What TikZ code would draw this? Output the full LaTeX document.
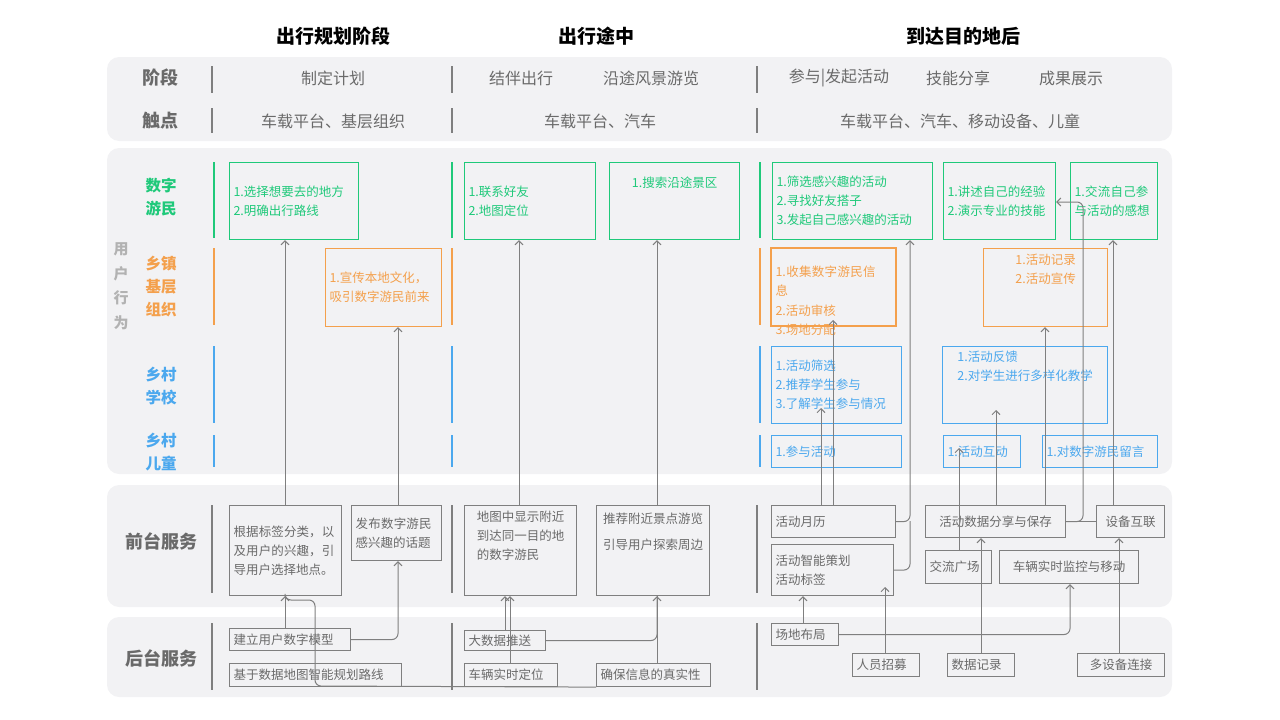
\documentclass[tikz,border=0pt]{standalone}
\usepackage{fontspec}
\setmainfont{Noto Sans CJK SC}
\XeTeXlinebreaklocale "zh"
\XeTeXlinebreakskip=0pt plus 1pt
\usetikzlibrary{arrows.meta}
\definecolor{panel}{HTML}{F2F2F4}
\definecolor{lgreen}{HTML}{1FC97A}
\definecolor{lorange}{HTML}{F4A04C}
\definecolor{lblue}{HTML}{4BA8EE}
\definecolor{lgray}{HTML}{7F7F7F}
\definecolor{tgray}{HTML}{6A6A6A}
\tikzset{
  bg/.style={fill=panel, draw=none, rounded corners=12pt},
  head/.style={font=\fontsize{19}{21}\selectfont\bfseries, text=black},
  lab/.style={font=\fontsize{18}{20}\selectfont\bfseries, text=tgray},
  role/.style={font=\fontsize{15.5}{23}\selectfont\bfseries, align=center},
  stage/.style={font=\fontsize{16}{18}\selectfont, text=tgray},
  box/.style={draw, line width=1.1pt, inner xsep=4pt, align=left,
    font=\fontsize{12.5}{19}\selectfont},
  gbox/.style={box, draw=lgreen, text=lgreen},
  obox/.style={box, draw=lorange, text=lorange},
  bbox/.style={box, draw=lblue, text=lblue},
  sbox/.style={box, draw=lgray, text=tgray},
  sep/.style={line width=1.3pt},
  link/.style={draw=lgray, line width=1pt, rounded corners=6pt, -{Straight Barb[length=4pt,width=8pt]}},
  line/.style={draw=lgray, line width=1pt, rounded corners=6pt}
}
% style, name, x, y, width, height, text
\newcommand\bx[7]{\node[#1, anchor=north west, minimum width=#5pt, minimum height=#6pt,
  text width=\dimexpr#5pt-8pt\relax] (#2) at (#3,#4) {#7};}
\begin{document}
\begin{tikzpicture}[x=1pt,y=-1pt]
  \useasboundingbox (0,0) rectangle (1280,720);

  % panels
  \fill[bg] (107,57) rectangle (1172,141);
  \fill[bg] (107,148) rectangle (1172,474);
  \fill[bg] (107,485) rectangle (1172,607);
  \fill[bg] (107,617) rectangle (1172,697);

  % headers
  \node[head] (h1) at (333,36) {出行规划阶段};
  \node[head] (h2) at (596,36) {出行途中};
  \node[head] (h3) at (963,36) {到达目的地后};

  % stage and touchpoint rows
  \node[lab] (stg) at (160,78) {阶段};
  \node[lab] (tch) at (160,121) {触点};
  \foreach \x in {212,452,757} {
    \draw[sep, lgray] (\x,66) -- (\x,93);
    \draw[sep, lgray] (\x,108) -- (\x,133);
  }
  \node[stage] (s1) at (333,78) {制定计划};
  \node[stage] (s2) at (521,78) {结伴出行};
  \node[stage] (s3) at (651,78) {沿途风景游览};
  \node[stage] (s4) at (839,78) {参与|发起活动};
  \node[stage] (s5) at (958,78) {技能分享};
  \node[stage] (s6) at (1071,78) {成果展示};
  \node[stage] (t1) at (333,121) {车载平台、基层组织};
  \node[stage] (t2) at (600,121) {车载平台、汽车};
  \node[stage] (t3) at (960,121) {车载平台、汽车、移动设备、儿童};

  % user behaviour lanes
  \node[font=\fontsize{15}{24.5}\selectfont\bfseries, text=gray!60, align=center] (ub) at (121,286) {用\\户\\行\\为};
  \node[role, text=lgreen] (r1) at (161,197) {数字\\游民};
  \node[role, text=lorange] (r2) at (161,286) {乡镇\\基层\\组织};
  \node[role, text=lblue] (r3) at (161,386) {乡村\\学校};
  \node[role, text=lblue] (r4) at (161,452) {乡村\\儿童};
  \foreach \x in {214,452,760} {
    \draw[sep, lgreen] (\x,162) -- (\x,238);
    \draw[sep, lorange] (\x,248) -- (\x,325);
    \draw[sep, lblue] (\x,346) -- (\x,423);
    \draw[sep, lblue] (\x,435) -- (\x,467);
  }

  \bx{gbox}{g1}{229}{162}{129}{77}{1.选择想要去的地方\\2.明确出行路线}
  \bx{gbox}{g2}{464}{162}{131}{77}{1.联系好友\\2.地图定位}
  \node[gbox, anchor=north west, minimum width=130pt, minimum height=77pt, align=center] (g3) at (609,162) {1.搜索沿途景区\\[19pt]};
  \bx{gbox}{g4}{772}{162}{160}{77}{1.筛选感兴趣的活动\\2.寻找好友搭子\\3.发起自己感兴趣的活动}
  \bx{gbox}{g5}{943}{162}{112}{77}{1.讲述自己的经验\\2.演示专业的技能}
  \bx{gbox}{g6}{1070}{162}{87}{77}{1.交流自己参与活动的感想}

  \bx{obox}{o1}{325}{248}{116}{78}{1.宣传本地文化，\\吸引数字游民前来}
  \draw[draw=lorange, line width=1.1pt] (771,248) rectangle (896,326);
  \node[anchor=north west, text=lorange, align=left, font=\fontsize{12.5}{19.5}\selectfont, text width=108pt] (o2) at (772,262) {1.收集数字游民信息\\2.活动审核\\3.场地分配};
  \node[obox, anchor=north west, minimum width=124pt, minimum height=78pt, align=left] (o3) at (983,248) {1.活动记录\\2.活动宣传\\[19pt]};

  \bx{bbox}{b1}{771}{346}{130}{77}{1.活动筛选\\2.推荐学生参与\\3.了解学生参与情况}
  \node[bbox, anchor=north west, minimum width=165pt, minimum height=77pt] (b2) at (942,346) {1.活动反馈\\2.对学生进行多样化教学\\[19pt]};
  \bx{bbox}{k1}{771}{435}{130}{32}{1.参与活动}
  \bx{bbox}{k2}{943}{435}{77}{32}{1.活动互动}
  \bx{bbox}{k3}{1042}{435}{115}{32}{1.对数字游民留言}

  % front stage
  \node[lab] (fs) at (161,541) {前台服务};
  \node[lab] (bs) at (161,658) {后台服务};
  \foreach \x in {212,452,757} {
    \draw[sep, lgray] (\x,505) -- (\x,593);
    \draw[sep, lgray] (\x,623) -- (\x,690);
  }
  \bx{sbox}{f1}{229}{505}{112}{90}{根据标签分类，以及用户的兴趣，引导用户选择地点。}
  \bx{sbox}{f2}{351}{505}{90}{55}{发布数字游民感兴趣的话题}
  \node[sbox, anchor=north west, minimum width=112pt, minimum height=90pt] (f3) at (464,505) {地图中显示附近\\到达同一目的地\\的数字游民\\[12pt]};
  \node[sbox, anchor=north west, minimum width=113pt, minimum height=90pt, align=left] (f4) at (596,505) {推荐附近景点游览\\[7pt]引导用户探索周边\\[20pt]};
  \bx{sbox}{f5}{771}{505}{124}{32}{活动月历}
  \bx{sbox}{f6}{771}{544}{122}{51}{活动智能策划\\活动标签}
  \node[sbox, anchor=north west, minimum width=140pt, minimum height=32pt] (f7) at (925,505) {活动数据分享与保存};
  \node[sbox, anchor=north west, minimum width=68pt, minimum height=32pt] (f8) at (1096,505) {设备互联};
  \bx{sbox}{f9}{925}{550}{66}{33}{交流广场}
  \node[sbox, anchor=north west, minimum width=139pt, minimum height=33pt] (f10) at (999,550) {车辆实时监控与移动};

  % back stage
  \bx{sbox}{k01}{229}{628}{121}{22}{建立用户数字模型}
  \bx{sbox}{k02}{229}{663}{172}{23}{基于数据地图智能规划路线}
  \bx{sbox}{k03}{464}{630}{81}{20}{大数据推送}
  \bx{sbox}{k04}{464}{663}{93}{23}{车辆实时定位}
  \bx{sbox}{k05}{596}{663}{114}{23}{确保信息的真实性}
  \bx{sbox}{k06}{771}{623}{67}{22}{场地布局}
  \bx{sbox}{k07}{852}{653}{67}{23}{人员招募}
  \bx{sbox}{k08}{947}{653}{67}{23}{数据记录}
  \node[sbox, anchor=north west, minimum width=87pt, minimum height=23pt] (k09) at (1077,653) {多设备连接};

  % connectors
  \draw[link] (f1.north -| 285,0) -- (g1.south -| 285,0);
  \draw[link] (f2.north -| 398,0) -- (o1.south -| 398,0);
  \draw[link] (f3.north -| 519,0) -- (g2.south -| 519,0);
  \draw[link] (f4.north -| 657,0) -- (g3.south -| 657,0);
  \draw[link] (k01.north -| 285,0) -- (f1.south -| 285,0);
  \draw[line] (k05.south west) -- (315,686) -- (315,600) -- (285,600) -- (f1.south -| 285,0);
  \draw[link] (k01.east) -| (f2.south -| 398,0);
  \draw[link] (k03.north -| 505,0) -- (f3.south -| 505,0);
  \draw[link] (k04.north -| 510,0) -- (f3.south -| 510,0);
  \draw[link] (k03.east) -| (f4.south -| 657,0);
  \draw[line] (k05.north -| 657,0) -- (f4.south -| 657,0);

  \draw[link] (f5.north -| 821,0) -- (821,408);
  \draw[link] (f5.north -| 833,0) -- (833,320);
  \draw[link] (f5.east) -| (g4.south -| 910,0);
  \draw[line] (f6.east) -| (910,521);
  \draw[link] (f9.north -| 959,0) -- (959,448);
  \draw[link] (f7.north -| 996,0) -- (996,410);
  \draw[link] (f7.north -| 1045,0) -- (o3.south -| 1045,0);
  \draw[link] (f7.east) -| (1083,202) -- (g5.east |- 0,202);
  \draw[line] (f7.east) -- (f8.west);
  \draw[link] (f8.north -| 1113,0) -- (g6.south -| 1113,0);
  \draw[link] (k06.north -| 803,0) -- (f6.south -| 803,0);
  \draw[link] (k06.east) -| (f10.south -| 1070,0);
  \draw[link] (k07.north -| 885,0) -- (885,587);
  \draw[link] (k08.north -| 981,0) -- (f7.south -| 981,0);
  \draw[link] (k09.north -| 1119,0) -- (f8.south -| 1119,0);
\end{tikzpicture}
\end{document}
